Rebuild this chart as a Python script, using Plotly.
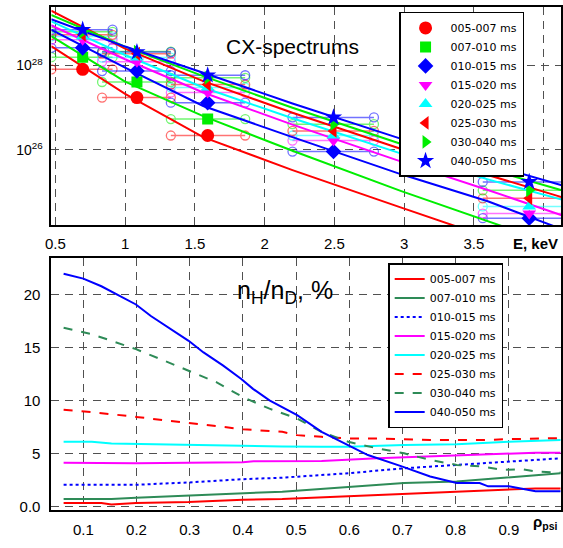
import plotly.graph_objects as go

W, H = 563, 548

# ---------------- top panel data: CX spectra ----------------
series = ["005-007 ms", "007-010 ms", "010-015 ms", "015-020 ms",
          "020-025 ms", "025-030 ms", "030-040 ms", "040-050 ms"]
top_colors = ["#ff0000", "#00ee00", "#0000ff", "#ff00ff",
              "#00ffff", "#ff0000", "#00ee00", "#0000ff"]
top_symbols = ["circle", "square", "diamond", "triangle-down",
               "triangle-up", "triangle-left", "triangle-right", "star"]

bin_left = [0.472, 0.835, 1.328, 2.20, 3.564]
bin_center = [0.696, 1.085, 1.592, 2.494, 3.897]
bin_right = [0.910, 1.328, 1.861, 2.784, 4.23]

spec_005_007 = [8.13e27, 1.74e27, 2.19e26, None, None]
spec_007_010 = [1.58e28, 4.07e27, 5.37e26, None, None]
spec_010_015 = [2.63e28, 7.41e27, 1.32e27, 9.12e25, 2.40e24]
spec_015_020 = [4.07e28, 1.23e28, 2.29e27, 1.66e26, 3.09e24]
spec_020_025 = [4.90e28, 1.55e28, 3.02e27, 2.19e26, 4.57e24]
spec_025_030 = [5.37e28, 1.91e28, 3.55e27, 2.82e26, 7.08e24]
spec_030_040 = [6.31e28, 2.14e28, 5.13e27, 4.07e26, 1.10e25]
spec_040_050 = [7.08e28, 2.09e28, 5.89e27, 5.89e26, 1.74e25]
spectra = [spec_005_007, spec_007_010, spec_010_015, spec_015_020,
           spec_020_025, spec_025_030, spec_030_040, spec_040_050]

fit_E = [0.47, 1.0, 1.56, 2.2, 2.98, 3.6, 4.13]
fit_005_007 = [2.88e28, 2.14e27, 2.00e26, 3.31e25, 4.27e24, 8.51e23, 2.14e23]
fit_007_010 = [5.01e28, 4.17e27, 6.31e26, 9.55e25, 1.05e25, 2.00e24, 5.01e23]
fit_010_015 = [7.08e28, 8.91e27, 1.10e27, 2.00e26, 2.63e25, 6.03e24, 1.32e24]
fit_015_020 = [8.91e28, 1.41e28, 2.29e27, 3.98e26, 5.25e25, 1.12e25, 2.82e24]
fit_020_025 = [1.12e29, 1.78e28, 3.02e27, 5.62e26, 8.13e25, 2.00e25, 6.61e24]
fit_025_030 = [2.00e29, 2.51e28, 4.27e27, 7.59e26, 1.05e26, 2.51e25, 7.59e24]
fit_030_040 = [1.58e29, 2.82e28, 5.62e27, 1.00e27, 1.38e26, 3.55e25, 1.10e25]
fit_040_050 = [1.26e29, 2.82e28, 6.76e27, 1.26e27, 1.82e26, 4.57e25, 1.45e25]
fits = [fit_005_007, fit_007_010, fit_010_015, fit_015_020,
        fit_020_025, fit_025_030, fit_030_040, fit_040_050]

E_ticks = [0.5, 1, 1.5, 2, 2.5, 3, 3.5, 4]
E_ticktext = ["0.5", "1", "1.5", "2", "2.5", "3", "3.5", " "]

# ---------------- bottom panel data: nH/nD profiles ----------------
bot_colors = ["#ff0000", "#2e8b57", "#0000ff", "#ff00ff",
              "#00ffff", "#ff0000", "#2e8b57", "#0000ff"]
bot_dash = ["solid", "solid", "dot", "solid", "solid", "dash", "dash", "solid"]

rho_005_007 = [0.063, 0.134, 0.153, 0.199, 0.298, 0.40, 0.474, 0.598, 0.703, 0.802, 0.90, 0.95, 0.997]
val_005_007 = [0.31, 0.31, 0.16, 0.31, 0.40, 0.62, 0.69, 0.94, 1.19, 1.41, 1.62, 1.69, 1.69]
rho_007_010 = [0.063, 0.153, 0.199, 0.298, 0.40, 0.474, 0.598, 0.703, 0.802, 0.90, 0.997]
val_007_010 = [0.69, 0.69, 0.81, 1.00, 1.25, 1.38, 1.81, 2.19, 2.34, 2.75, 3.12]
rho_010_015 = [0.063, 0.199, 0.298, 0.40, 0.474, 0.598, 0.703, 0.802, 0.90, 0.997]
val_010_015 = [2.03, 2.03, 2.25, 2.56, 2.70, 3.12, 3.59, 3.91, 4.22, 4.53]
rho_015_020 = [0.063, 0.153, 0.199, 0.298, 0.40, 0.42, 0.474, 0.548, 0.653, 0.752, 0.851, 0.95, 0.997]
val_015_020 = [4.12, 4.06, 4.06, 4.12, 4.15, 4.25, 4.25, 4.28, 4.53, 4.69, 4.84, 5.06, 5.06]
rho_020_025 = [0.063, 0.116, 0.153, 0.298, 0.40, 0.474, 0.548, 0.598, 0.703, 0.802, 0.90, 0.997]
val_020_025 = [6.09, 6.09, 5.94, 5.78, 5.69, 5.65, 5.62, 5.62, 5.78, 5.87, 6.09, 6.25]
rho_025_030 = [0.063, 0.116, 0.199, 0.298, 0.40, 0.474, 0.502, 0.548, 0.598, 0.653, 0.752, 0.851, 0.90, 0.997]
val_025_030 = [9.12, 8.90, 8.44, 7.90, 7.28, 7.03, 6.72, 6.56, 6.41, 6.41, 6.25, 6.25, 6.34, 6.44]
rho_030_040 = [0.063, 0.116, 0.153, 0.199, 0.245, 0.298, 0.35, 0.40, 0.45, 0.502, 0.548,
               0.598, 0.653, 0.703, 0.752, 0.802, 0.851, 0.888, 0.925, 0.95, 0.997]
val_030_040 = [16.87, 16.25, 15.63, 14.84, 13.90, 12.81, 11.72, 10.31, 9.22, 8.28, 7.03,
               6.09, 5.47, 5.00, 4.38, 3.91, 3.75, 3.44, 3.50, 3.28, 3.19]
rho_040_050 = [0.063, 0.10, 0.134, 0.168, 0.199, 0.227, 0.27, 0.298, 0.326, 0.363, 0.397,
               0.419, 0.45, 0.502, 0.548, 0.598, 0.635, 0.70, 0.752, 0.802, 0.845,
               0.861, 0.90, 0.95, 0.997]
val_040_050 = [21.97, 21.50, 20.78, 19.84, 19.06, 17.97, 16.56, 15.63, 14.53, 13.28, 12.03,
               11.09, 10.00, 8.60, 7.03, 5.78, 4.84, 3.75, 2.81, 2.19, 2.19,
               1.88, 1.88, 1.41, 1.41]
rhos = [rho_005_007, rho_007_010, rho_010_015, rho_015_020,
        rho_020_025, rho_025_030, rho_030_040, rho_040_050]
vals = [val_005_007, val_007_010, val_010_015, val_015_020,
        val_020_025, val_025_030, val_030_040, val_040_050]

rho_ticks = [0.1, 0.2, 0.3, 0.4, 0.5, 0.6, 0.7, 0.8, 0.9]
ratio_ticks = [0, 5, 10, 15, 20]
ratio_ticktext = ["0.0", "5", "10", "15", "20"]

# ---------------- figure ----------------
fig = go.Figure()
FONT = "Liberation Sans, Arial, sans-serif"
LFONT = "DejaVu Sans, Liberation Sans, sans-serif"

for i, name in enumerate(series):
    c = top_colors[i]
    ex, ey = [], []
    for l, r, v in zip(bin_left, bin_right, spectra[i]):
        if v is None:
            continue
        ex += [l, r, None]
        ey += [v, v, None]
    fig.add_trace(go.Scatter(x=ex, y=ey, mode="lines+markers",
                             line=dict(color=c, width=1.5),
                             marker=dict(symbol="circle-open", size=9, color=c,
                                         line=dict(width=1.3, color=c)),
                             opacity=0.55, showlegend=False, hoverinfo="skip",
                             xaxis="x", yaxis="y"))
for i, name in enumerate(series):
    c = top_colors[i]
    fig.add_trace(go.Scatter(x=fit_E, y=fits[i], mode="lines",
                             line=dict(color=c, width=2), showlegend=False,
                             xaxis="x", yaxis="y"))
for i, name in enumerate(series):
    c = top_colors[i]
    sz = 13 if top_symbols[i] in ("circle", "star") else 12
    if top_symbols[i] == "square":
        sz = 11
    fig.add_trace(go.Scatter(x=bin_center, y=spectra[i], mode="markers", name=name,
                             marker=dict(symbol=top_symbols[i], size=sz, color=c,
                                         line=dict(width=0)),
                             legend="legend", xaxis="x", yaxis="y"))

for i, name in enumerate(series):
    fig.add_trace(go.Scatter(x=rhos[i], y=vals[i], mode="lines", name=name,
                             line=dict(color=bot_colors[i], width=2, dash=bot_dash[i]),
                             legend="legend2", xaxis="x2", yaxis="y2"))

def px(x):
    return x / W

def py(y):
    return 1 - y / H

axis_common = dict(showline=True, linecolor="black", linewidth=2, mirror=True,
                   showgrid=True, gridcolor="#505050", griddash="8px,6px", gridwidth=1.2,
                   zeroline=False, ticks="", tickfont=dict(family=FONT, size=15, color="black"))

fig.update_layout(
    width=W, height=H, margin=dict(l=0, r=0, t=0, b=0),
    paper_bgcolor="white", plot_bgcolor="white",
    font=dict(family=FONT, color="black"),
    xaxis=dict(domain=[px(46), px(562)], range=[0.472, 4.125], anchor="y",
               tickvals=E_ticks, ticktext=E_ticktext, ticklabelstandoff=4, **axis_common),
    yaxis=dict(domain=[py(227), py(7)], type="log", range=[24.21, 29.39], anchor="x",
               tickvals=[1e26, 1e28], ticktext=["10<sup>26</sup>", "10<sup>28</sup>"],
               ticklabelstandoff=4, **{k: v for k, v in axis_common.items() if k != "tickfont"},
               tickfont=dict(family=FONT, size=14, color="black")),
    xaxis2=dict(domain=[px(46), px(562)], range=[0.0401, 0.998], anchor="y2",
                tickvals=rho_ticks, ticktext=[str(t) for t in rho_ticks],
                ticklabelstandoff=5, **axis_common),
    yaxis2=dict(domain=[py(514), py(260)], range=[-0.375, 23.44], anchor="x2",
                tickvals=ratio_ticks, ticktext=ratio_ticktext, ticklabelstandoff=6,
                **axis_common),
    legend=dict(x=px(398), y=py(12), xanchor="left", yanchor="top",
                bgcolor="white", bordercolor="black", borderwidth=1.5,
                itemwidth=40,
                font=dict(family=LFONT, size=11, color="black")),
    legend2=dict(x=px(387), y=py(265), xanchor="left", yanchor="top",
                 bgcolor="white", bordercolor="black", borderwidth=1.5,
                 font=dict(family=LFONT, size=11, color="black")),
    showlegend=True,
    annotations=[
        dict(text="CX-spectrums", x=px(290), y=py(33), xref="paper", yref="paper",
             showarrow=False, font=dict(family=FONT, size=21, color="black")),
        dict(text="n<sub>H</sub>/n<sub>D</sub>, %", x=px(232), y=py(294), xref="paper",
             yref="paper", xanchor="left", showarrow=False,
             font=dict(family=FONT, size=25, color="black")),
        dict(text="<b>E, keV</b>", x=px(561), y=py(245), xref="paper", yref="paper",
             xanchor="right", showarrow=False, font=dict(family=FONT, size=15, color="black")),
        dict(text="<b>ρ<sub>psi</sub></b>", x=px(561), y=py(538), xref="paper", yref="paper",
             xanchor="right", showarrow=False, font=dict(family=FONT, size=15, color="black")),
    ],
)

fig.write_html("out.html", config={"displayModeBar": False},
               post_script="document.body.style.margin='0';document.body.style.overflow='hidden';")
